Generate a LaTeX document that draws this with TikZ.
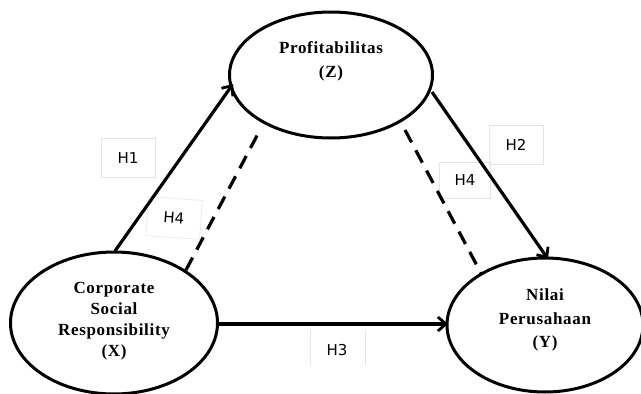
\documentclass[tikz,border=0pt]{standalone}
\usepackage{fontspec}
\setmainfont{Liberation Serif}
\newfontfamily\vfont[LetterSpace=4]{Liberation Serif}
\newfontfamily\labfont{DejaVu Sans}
\usetikzlibrary{arrows.meta,shapes.geometric}
\begin{document}
\begin{tikzpicture}[x=1pt,y=-1pt,
  var/.style={draw,line width=3pt,ellipse,inner sep=0pt},
  vtext/.style={font=\vfont\fontsize{17}{21}\selectfont\bfseries,align=center},
  path/.style={line width=3.2pt,-{Straight Barb[length=8pt,width=14pt,line width=2.8pt]}},
  dpath/.style={line width=3.2pt,dash pattern=on 14pt off 9pt},
  hlab/.style={draw=black!10,line width=0.5pt,font=\labfont\fontsize{15}{17}\selectfont,minimum width=54pt,minimum height=39pt,inner sep=0pt}]
\useasboundingbox (0,0) rectangle (641,394);
\fill[white] (0,0) rectangle (641,394);
% ellipses
\node[var,minimum width=207pt,minimum height=142pt] (X) at (114,323) {};
\node[var,minimum width=203pt,minimum height=126pt] (Z) at (331,75) {};
\node[var,minimum width=196pt,minimum height=134pt] (Y) at (545,325) {};
\node[vtext] (Xt) at (114,321) {Corporate\\Social\\Responsibility\\(X)};
\node[vtext,font=\vfont\fontsize{17}{24}\selectfont\bfseries] (Zt) at (331,61) {Profitabilitas\\(Z)};
\node[vtext,font=\vfont\fontsize{17}{23.5}\selectfont\bfseries] (Yt) at (545,320) {Nilai\\Perusahaan\\(Y)};
% coordinates
\coordinate (h1s) at (115,251);
\coordinate (h1e) at (233,84);
\coordinate (h2s) at (432,92);
\coordinate (h2e) at (548,259);
\coordinate (h3s) at (218,324);
\coordinate (h3e) at (448,324);
\coordinate (d1s) at (186,270);
\coordinate (d1e) at (260,130);
\coordinate (d2s) at (405,130);
\coordinate (d2e) at (482,275);
% labels
\node[hlab] (L1) at (128,158) {H1};
\node[hlab,rotate=-4] (L4a) at (174,218) {H4};
\node[hlab] (L2) at (516,145) {H2};
\node[hlab,minimum width=51pt,minimum height=36pt] (L4b) at (465,180) {H4};
\node[hlab,draw=none] (L3) at (337,350) {H3};
\draw[black!10,line width=0.5pt] (310,330) -- (310,365) (365,330) -- (365,365);
% connectors
\draw[path] (h1s) -- (h1e);
\draw[path] (h2s) -- (h2e);
\draw[path] (h3s) -- (h3e);
\draw[dpath] (d1s) -- (d1e);
\draw[dpath] (d2s) -- (d2e);
\end{tikzpicture}
\end{document}
